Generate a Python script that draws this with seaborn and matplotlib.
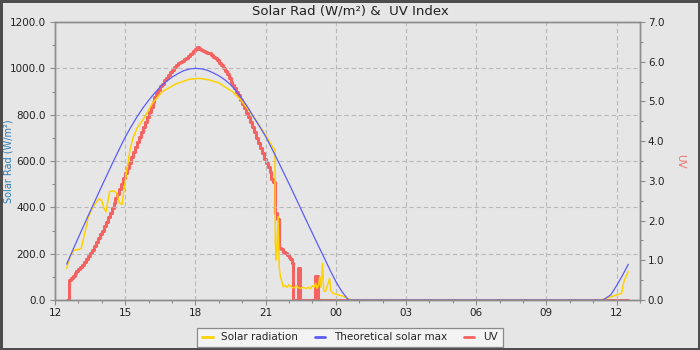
import matplotlib
matplotlib.use("Agg")
import matplotlib.pyplot as plt
import matplotlib.dates as mdates
import pandas as pd
import seaborn as sns
from matplotlib.ticker import MultipleLocator, FormatStrFormatter
from matplotlib.lines import Line2D

# ---- data -------------------------------------------------------------
solar_clock = ["12:30", "12:40", "12:50", "13:00", "13:07", "13:15", "13:25", "13:35",
               "13:45", "13:54", "14:00", "14:05", "14:11", "14:15", "14:20", "14:30",
               "14:38", "14:45", "14:52", "14:58", "15:05", "15:12", "15:20", "15:30",
               "15:45", "15:55", "16:10", "16:35", "17:10", "17:45", "18:10", "18:35",
               "19:00", "19:35", "19:55", "20:20", "20:40", "21:00", "21:18", "21:24",
               "21:25", "21:27", "21:29", "21:32", "21:35", "21:38", "21:42", "21:45",
               "21:50", "21:55", "22:00", "22:05", "22:10", "22:15", "22:20", "22:25",
               "22:30", "22:35", "22:40", "22:45", "22:50", "22:55", "23:00", "23:05",
               "23:08", "23:12", "23:16", "23:19", "23:22", "23:26", "23:29", "23:33",
               "23:38", "23:44", "23:47", "23:53", "00:01", "00:10", "00:18", "00:31",
               "00:40", "11:22", "11:25", "11:45", "12:01", "12:13", "12:18", "12:21",
               "12:30"]
solar_wm2 = [137, 195, 216, 218, 222, 280, 355, 395,
             420, 438, 428, 398, 381, 420, 468, 472,
             462, 420, 412, 489, 570, 645, 700, 740,
             777, 805, 850, 899, 933, 953, 957, 950,
             937, 899, 866, 813, 763, 712, 660, 648,
             240, 173, 230, 360, 140, 100, 79, 57,
             62, 55, 66, 58, 52, 55, 60, 52,
             50, 55, 52, 50, 55, 48, 62, 55,
             72, 50, 65, 100, 55, 158, 40, 36,
             60, 94, 40, 29, 25, 20, 17, 7,
             0, 0, 3, 14, 22, 29, 75, 90,
             122]

theory_clock = ["12:30", "12:45", "13:00", "13:15", "13:30", "13:45", "14:00", "14:15",
                "14:30", "14:45", "15:00", "15:15", "15:30", "15:45", "16:00", "16:15",
                "16:30", "16:45", "17:00", "17:15", "17:30", "17:45", "18:00", "18:15",
                "18:30", "18:45", "19:00", "19:15", "19:30", "19:45", "20:00", "20:15",
                "20:30", "20:45", "21:00", "21:15", "21:30", "21:45", "22:00", "22:15",
                "22:30", "22:45", "23:00", "23:15", "23:30", "23:45", "00:00", "00:15",
                "00:30", "00:35", "11:25", "11:45", "12:00", "12:15", "12:30"]
theory_wm2 = [155, 213, 270, 326, 382, 437, 492, 546,
              600, 652, 703, 748, 790, 828, 862, 892,
              920, 943, 962, 977, 990, 997, 1000, 998,
              992, 981, 968, 951, 930, 902, 868, 830,
              788, 748, 706, 657, 606, 554, 502, 449,
              395, 341, 288, 235, 183, 130, 80, 38,
              5, 0, 0, 22, 62, 106, 154]

uv_clock = ["12:32", "12:35", "12:40", "12:45", "12:50", "12:55", "13:00", "13:05",
            "13:10", "13:15", "13:20", "13:25", "13:30", "13:35", "13:40", "13:45",
            "13:50", "13:55", "14:00", "14:05", "14:10", "14:15", "14:20", "14:25",
            "14:30", "14:35", "14:40", "14:45", "14:50", "14:55", "15:00", "15:05",
            "15:10", "15:15", "15:20", "15:25", "15:30", "15:35", "15:40", "15:45",
            "15:50", "15:55", "16:00", "16:05", "16:10", "16:15", "16:20", "16:25",
            "16:30", "16:35", "16:40", "16:45", "16:50", "16:55", "17:00", "17:05",
            "17:10", "17:15", "17:20", "17:25", "17:30", "17:35", "17:40", "17:45",
            "17:50", "17:55", "18:00", "18:05", "18:10", "18:15", "18:20", "18:25",
            "18:30", "18:35", "18:40", "18:45", "18:50", "18:55", "19:00", "19:05",
            "19:10", "19:15", "19:20", "19:25", "19:30", "19:35", "19:40", "19:45",
            "19:50", "19:55", "20:00", "20:05", "20:10", "20:15", "20:20", "20:25",
            "20:30", "20:35", "20:40", "20:45", "20:50", "20:55", "21:00", "21:05",
            "21:10", "21:15", "21:20", "21:25", "21:30", "21:35", "21:40", "21:45",
            "21:50", "21:55", "22:00", "22:03", "22:07", "22:10", "22:22", "22:29",
            "23:06", "23:15", "12:30"]
uv_index = [0.00, 0.50, 0.55, 0.61, 0.67, 0.72, 0.77, 0.82,
            0.88, 0.95, 1.02, 1.10, 1.18, 1.27, 1.36, 1.45,
            1.55, 1.65, 1.75, 1.86, 1.97, 2.09, 2.20, 2.32,
            2.44, 2.56, 2.68, 2.80, 2.93, 3.06, 3.20, 3.33,
            3.46, 3.59, 3.72, 3.85, 3.98, 4.11, 4.24, 4.36,
            4.48, 4.61, 4.73, 4.86, 4.98, 5.10, 5.21, 5.30,
            5.39, 5.45, 5.53, 5.60, 5.67, 5.73, 5.80, 5.86,
            5.91, 5.96, 6.00, 6.03, 6.06, 6.10, 6.15, 6.19,
            6.23, 6.28, 6.32, 6.38, 6.33, 6.30, 6.27, 6.25,
            6.23, 6.21, 6.17, 6.13, 6.10, 6.04, 5.98, 5.92,
            5.84, 5.76, 5.68, 5.60, 5.50, 5.42, 5.33, 5.25,
            5.15, 5.04, 4.94, 4.84, 4.72, 4.60, 4.48, 4.35,
            4.22, 4.09, 3.96, 3.82, 3.69, 3.56, 3.45, 3.36,
            3.22, 3.05, 2.98, 2.20, 2.05, 1.32, 1.28, 1.22,
            1.18, 1.13, 1.08, 1.02, 0.92, 0.00, 0.81, 0.00,
            0.60, 0.00, 0.00]

hour_labels = ["12", "15", "18", "21", "00", "03", "06", "09", "12"]

series_names = ["Solar radiation", "Theoretical solar max", "UV"]
series_colors = ["#ffd200", "#5c5cff", "#f46262"]

START_DAY = "2024-06-01"


def clock_to_datetime(clock, start=START_DAY):
    """Turn a sequence of HH:MM strings into timestamps, rolling over midnight."""
    base = pd.Timestamp(start)
    out, day, prev = [], 0, None
    for c in clock:
        h, m = map(int, c.split(":"))
        ts = base + pd.Timedelta(days=day, hours=h, minutes=m)
        if prev is not None and ts < prev:
            day += 1
            ts += pd.Timedelta(days=1)
        out.append(ts)
        prev = ts
    return out


solar_df = pd.DataFrame({"time": clock_to_datetime(solar_clock), "value": solar_wm2})
theory_df = pd.DataFrame({"time": clock_to_datetime(theory_clock), "value": theory_wm2})
uv_df = pd.DataFrame({"time": clock_to_datetime(uv_clock), "value": uv_index})

# ---- style ------------------------------------------------------------
sns.set_style("ticks")
plt.rcParams["font.family"] = ["DejaVu Sans"]
BG = "#e6e6e6"
SPINE = "#8c8c8c"
TXT = "#222222"

fig = plt.figure(figsize=(7, 3.5), dpi=100, facecolor=BG)
fig.patch.set_edgecolor("#4d4d4d")
fig.patch.set_linewidth(3.6)

ax = fig.add_axes([55 / 700, 50 / 350, 585 / 700, 278 / 350])
ax.set_facecolor(BG)
ax2 = ax.twinx()

# UV on the secondary axis, drawn underneath the radiation lines
sns.lineplot(data=uv_df, x="time", y="value", ax=ax2, color=series_colors[2],
             linewidth=2.2, drawstyle="steps-post", estimator=None, legend=False)
sns.lineplot(data=solar_df, x="time", y="value", ax=ax, color=series_colors[0],
             linewidth=1.1, estimator=None, legend=False)
sns.lineplot(data=theory_df, x="time", y="value", ax=ax, color=series_colors[1],
             linewidth=0.9, estimator=None, legend=False)

ax.set_zorder(ax2.get_zorder() + 1)
ax.patch.set_visible(False)

# ---- axes -------------------------------------------------------------
t0 = pd.Timestamp(START_DAY) + pd.Timedelta(hours=12)
ax.set_xlim(t0, t0 + pd.Timedelta(hours=25))
ax.set_ylim(0, 1200)
ax2.set_ylim(0, 7)

major_hours = [t0 + pd.Timedelta(hours=3 * i) for i in range(len(hour_labels))]
ax.set_xticks(major_hours)
ax.set_xticklabels(hour_labels)
ax.xaxis.set_minor_locator(mdates.HourLocator())

ax.yaxis.set_major_locator(MultipleLocator(200))
ax.yaxis.set_minor_locator(MultipleLocator(100))
ax.yaxis.set_major_formatter(FormatStrFormatter("%.1f"))
ax2.yaxis.set_major_locator(MultipleLocator(1))
ax2.yaxis.set_minor_locator(MultipleLocator(0.5))
ax2.yaxis.set_major_formatter(FormatStrFormatter("%.1f"))

for a in (ax, ax2):
    a.tick_params(which="major", length=3.6, width=0.8, color=SPINE,
                  labelsize=7.5, labelcolor=TXT, direction="out")
    a.tick_params(which="minor", length=2.2, width=0.8, color=SPINE, direction="out")
    for s in a.spines.values():
        s.set_visible(True)
        s.set_color(SPINE)
        s.set_linewidth(1.0)
ax.tick_params(axis="y", pad=3)
ax.tick_params(axis="x", pad=2)
ax2.tick_params(axis="y", pad=2)

ax.grid(True, which="major", linestyle=(0, (4, 2.5)), color="#b9b9b9", linewidth=0.8)
ax2.grid(False)

ax.set_xlabel("")
ax.set_ylabel("Solar Rad (W/m²)", color="#2f7db3", fontsize=7)
ax.yaxis.label.set_va("center")
ax.yaxis.set_label_coords((8.5 - 55) / 585, 0.5)
ax2.set_ylabel("UV", color="#f07070", fontsize=7.5, rotation=270)
ax2.yaxis.label.set_va("center")
ax2.yaxis.set_label_coords((680 - 55) / 585, 0.5)

fig.text(0.5, (350 - 15) / 350, "Solar Rad (W/m²) &  UV Index",
         ha="center", va="baseline", fontsize=9.5, color=TXT)

handles = [Line2D([], [], color=c, linewidth=2) for c in series_colors]
leg = fig.legend(handles, series_names, loc="center",
                 bbox_to_anchor=(350 / 700, (350 - 337.5) / 350), ncol=3,
                 fontsize=7.5, frameon=True, fancybox=False, framealpha=1,
                 edgecolor="#8a8a8a", facecolor="#f3f3f3", handlelength=1.0,
                 handletextpad=0.85, columnspacing=1.6, borderpad=0.45)
leg.get_frame().set_linewidth(0.9)

fig.savefig("out.png", dpi=100, facecolor=fig.get_facecolor(),
            edgecolor=fig.get_edgecolor())
